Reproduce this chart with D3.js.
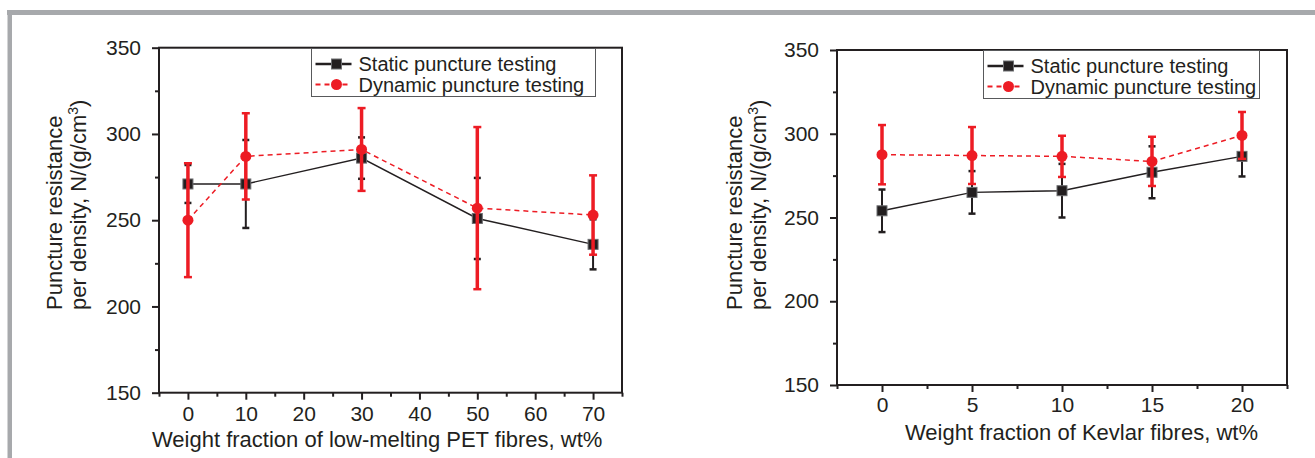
<!DOCTYPE html>
<html lang="en">

<head>
  <meta charset="utf-8">
  <title>Puncture resistance</title>
  <script src="https://d3js.org/d3.v7.min.js"></script>
  <style>
    body { margin: 0; background: #fff; }
    text { font-family: "Liberation Sans", Arial, Helvetica, sans-serif; fill: #231f20; }
  </style>
</head>

<body>
  <script>
    // left panel: low-melting PET fibres
    var petX = [0, 10, 30, 50, 70];
    var petStatic = [271, 271, 286, 251, 236];
    var petStaticErr = [11, 25.5, 12, 23.5, 14.5];
    var petDynamic = [250, 287, 291, 257, 253];
    var petDynamicErr = [33, 25, 24, 47, 23];
    var petTicks = [0, 10, 20, 30, 40, 50, 60, 70];
    var petMinor = [-5, 5, 15, 25, 35, 45, 55, 65, 75];

    // right panel: Kevlar fibres
    var kevX = [0, 5, 10, 15, 20];
    var kevStatic = [254, 265, 266, 277, 286.5];
    var kevStaticErr = [12.7, 12.7, 16, 15.5, 12];
    var kevDynamic = [287.5, 287, 286.5, 283.5, 299];
    var kevDynamicErr = [17.7, 17, 12.3, 14.7, 14];
    var kevTicks = [0, 5, 10, 15, 20];
    var kevMinor = [-2.5, 2.5, 7.5, 12.5, 17.5, 22.5];

    var yTicks = [150, 200, 250, 300, 350];
    var yMinor = [175, 225, 275, 325];
    var seriesNames = ['Static puncture testing', 'Dynamic puncture testing'];

    var ink = '#231f20', red = '#ed1c24';

    var svg = d3.select('body').append('svg')
      .attr('width', 1315)
      .attr('height', 458);

    // grey frame of the figure
    svg.append('rect').attr('x', 7).attr('y', 10).attr('width', 1308).attr('height', 5).attr('fill', '#a7a9ac');
    svg.append('rect').attr('x', 7.5).attr('y', 10).attr('width', 4.5).attr('height', 448).attr('fill', '#a7a9ac');

    function panel(o) {
      var x = d3.scaleLinear().domain(o.xDomain).range([o.left, o.right]);
      var y = d3.scaleLinear().domain([150, 350]).range([o.bottom, o.top]);
      var g = svg.append('g');

      // axes
      var yMin = g.append('g').attr('transform', 'translate(' + o.left + ',0)')
        .call(d3.axisLeft(y).tickValues(yMinor).tickSize(4).tickFormat(''));
      var yMaj = g.append('g').attr('transform', 'translate(' + o.left + ',0)')
        .call(d3.axisLeft(y).tickValues(yTicks).tickSize(7).tickPadding(11));
      var xMin = g.append('g').attr('transform', 'translate(0,' + o.bottom + ')')
        .call(d3.axisBottom(x).tickValues(o.xMinor).tickSize(4).tickFormat(''));
      var xMaj = g.append('g').attr('transform', 'translate(0,' + o.bottom + ')')
        .call(d3.axisBottom(x).tickValues(o.xTicks).tickSize(7).tickPadding(o.xPad));
      [yMin, yMaj, xMin, xMaj].forEach(function(a) {
        a.select('.domain').remove();
        a.selectAll('line').attr('stroke', ink).attr('stroke-width', 2);
        a.selectAll('text').style('font-size', '21px').attr('fill', ink);
      });

      g.append('rect')
        .attr('x', o.left).attr('y', o.top)
        .attr('width', o.right - o.left).attr('height', o.bottom - o.top)
        .attr('fill', 'none').attr('stroke', ink).attr('stroke-width', 2);

      // axis titles
      g.append('text')
        .attr('x', o.xTitleX).attr('y', o.xTitleY)
        .style('font-size', '22px')
        .text(o.xTitle);
      var t1 = g.append('text')
        .attr('transform', 'translate(' + o.yTitleX + ',310) rotate(-90)')
        .style('font-size', '22px')
        .text('Puncture resistance');
      var t2 = g.append('text')
        .attr('transform', 'translate(' + (o.yTitleX + 24) + ',310) rotate(-90)')
        .style('font-size', '22px');
      t2.append('tspan').text('per density, N/(g/cm');
      t2.append('tspan').attr('dy', -8).style('font-size', '14px').text('3');
      t2.append('tspan').attr('dy', 8).text(')');

      var line = d3.line().x(function(d) { return x(d[0]); }).y(function(d) { return y(d[1]); });

      function errorBars(vals, errs, color, w, cap) {
        var eg = g.append('g').attr('stroke', color);
        o.xs.forEach(function(xv, i) {
          var cx = x(xv), hi = y(vals[i] + errs[i]), lo = y(vals[i] - errs[i]);
          eg.append('line').attr('x1', cx).attr('x2', cx).attr('y1', hi).attr('y2', lo).attr('stroke-width', w);
          eg.append('line').attr('x1', cx - cap).attr('x2', cx + cap).attr('y1', hi).attr('y2', hi).attr('stroke-width', 2.5);
          eg.append('line').attr('x1', cx - cap).attr('x2', cx + cap).attr('y1', lo).attr('y2', lo).attr('stroke-width', 2.5);
        });
      }

      var sPts = o.xs.map(function(v, i) { return [v, o.stat[i]]; });
      var dPts = o.xs.map(function(v, i) { return [v, o.dyn[i]]; });

      // static series
      errorBars(o.stat, o.statErr, ink, 2, 3.5);
      g.append('path').datum(sPts).attr('d', line)
        .attr('fill', 'none').attr('stroke', ink).attr('stroke-width', 1.4);
      g.selectAll('.sq').data(sPts).enter().append('rect')
        .attr('x', function(d) { return x(d[0]) - 5; })
        .attr('y', function(d) { return y(d[1]) - 5; })
        .attr('width', 10).attr('height', 10)
        .attr('fill', ink).attr('stroke', '#6d6e71').attr('stroke-width', 1);

      // dynamic series
      errorBars(o.dyn, o.dynErr, red, 3.5, 4);
      g.append('path').datum(dPts).attr('d', line)
        .attr('fill', 'none').attr('stroke', red).attr('stroke-width', 1.5)
        .attr('stroke-dasharray', '5,4');
      g.selectAll('.ci').data(dPts).enter().append('circle')
        .attr('cx', function(d) { return x(d[0]); })
        .attr('cy', function(d) { return y(d[1]); })
        .attr('r', 5.5).attr('fill', red);

      // legend
      var lg = g.append('g');
      lg.append('rect')
        .attr('x', o.legX).attr('y', o.legY)
        .attr('width', o.legW).attr('height', 48)
        .attr('fill', '#fff').attr('stroke', '#58595b').attr('stroke-width', 1);
      var lx0 = o.legX + 4, lx1 = o.legX + 40, mx = o.legX + 25;
      var r1 = o.legY + 15.5, r2 = o.legY + 36;
      lg.append('line').attr('x1', lx0).attr('x2', lx1).attr('y1', r1).attr('y2', r1)
        .attr('stroke', ink).attr('stroke-width', 2.5);
      lg.append('rect').attr('x', mx - 5).attr('y', r1 - 5).attr('width', 10).attr('height', 10)
        .attr('fill', ink).attr('stroke', '#6d6e71');
      lg.append('line').attr('x1', lx0).attr('x2', lx1).attr('y1', r2).attr('y2', r2)
        .attr('stroke', red).attr('stroke-width', 2).attr('stroke-dasharray', '5,4');
      lg.append('circle').attr('cx', mx).attr('cy', r2).attr('r', 5.5).attr('fill', red);
      lg.selectAll('.lt').data(seriesNames).enter().append('text')
        .attr('x', o.legX + 47)
        .attr('y', function(d, i) { return i ? r2 + 7 : r1 + 7; })
        .style('font-size', '20px')
        .text(function(d) { return d; });
    }

    panel({
      left: 159, right: 622, top: 47.7, bottom: 392.7,
      xDomain: [-5, 75], xTicks: petTicks, xMinor: petMinor, xPad: 6,
      xs: petX, stat: petStatic, statErr: petStaticErr, dyn: petDynamic, dynErr: petDynamicErr,
      xTitle: 'Weight fraction of low-melting PET fibres, wt%', xTitleX: 152, xTitleY: 447,
      yTitleX: 62,
      legX: 311.5, legY: 48.5, legW: 284
    });

    panel({
      left: 837, right: 1287, top: 50, bottom: 385,
      xDomain: [-2.5, 22.5], xTicks: kevTicks, xMinor: kevMinor, xPad: 5,
      xs: kevX, stat: kevStatic, statErr: kevStaticErr, dyn: kevDynamic, dynErr: kevDynamicErr,
      xTitle: 'Weight fraction of Kevlar fibres, wt%', xTitleX: 905, xTitleY: 440,
      yTitleX: 741.5,
      legX: 983.5, legY: 50.5, legW: 276
    });
  </script>
</body>

</html>
